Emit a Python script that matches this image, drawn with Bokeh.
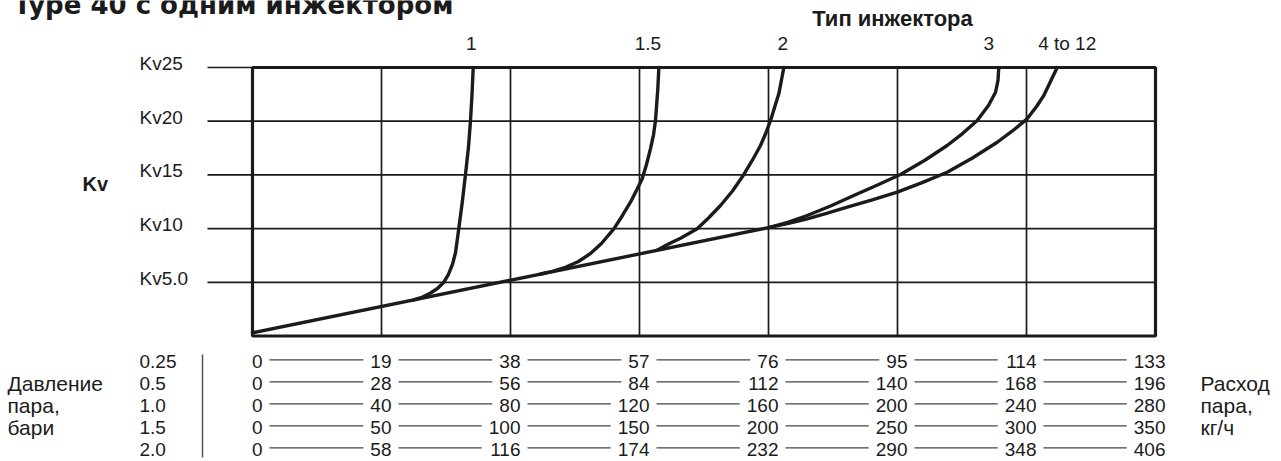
from bokeh.plotting import figure
from bokeh.models import Range1d
from bokeh.core.properties import value
from bokeh.embed import file_html
from bokeh.resources import INLINE

# ---------------- data ----------------
title_text = "Type 40 с одним инжектором"
type_axis_title = "Тип инжектора"
kv_axis_title = "Kv"
kv_ticks = [5, 10, 15, 20, 25]
kv_tick_labels = ["Kv5.0", "Kv10", "Kv15", "Kv20", "Kv25"]
columns = [0, 1, 2, 3, 4, 5, 6, 7]

pressure_labels = ["0.25", "0.5", "1.0", "1.5", "2.0"]
flow_p025 = [0, 19, 38, 57, 76, 95, 114, 133]
flow_p05 = [0, 28, 56, 84, 112, 140, 168, 196]
flow_p10 = [0, 40, 80, 120, 160, 200, 240, 280]
flow_p15 = [0, 50, 100, 150, 200, 250, 300, 350]
flow_p20 = [0, 58, 116, 174, 232, 290, 348, 406]
flow_rows = [flow_p025, flow_p05, flow_p10, flow_p15, flow_p20]

left_caption = ["Давление", "пара,", "бари"]
right_caption = ["Расход", "пара,", "кг/ч"]

injector_types = ["1", "1.5", "2", "3", "4 to 12"]

# common straight part (x in flow-column units, y in Kv)
diag_x = [0.0, 4.016]
diag_kv = [0.3, 10.13]

curve_1_x = [1.250, 1.318, 1.380, 1.434, 1.481, 1.519, 1.550, 1.574, 1.599,
             1.626, 1.651, 1.674, 1.690, 1.702, 1.711]
curve_1_kv = [3.36, 3.63, 4.00, 4.42, 4.98, 5.73, 6.66, 7.77, 9.98,
              12.46, 15.04, 17.55, 20.07, 22.58, 25.0]

curve_15_x = [2.233, 2.326, 2.426, 2.527, 2.620, 2.705, 2.801, 2.868, 2.930,
              2.984, 3.021, 3.054, 3.085, 3.109, 3.124, 3.142, 3.150]
curve_15_kv = [5.77, 6.02, 6.40, 6.94, 7.68, 8.61, 9.98, 11.22, 12.46,
               13.73, 14.64, 15.97, 17.43, 18.76, 20.07, 23.02, 25.0]

curve_2_x = [3.137, 3.225, 3.318, 3.447, 3.535, 3.628, 3.721, 3.809, 3.876,
             3.938, 3.981, 4.016, 4.054, 4.080, 4.119]
curve_2_kv = [7.98, 8.57, 9.11, 9.98, 10.99, 12.15, 13.50, 15.04, 16.39,
              17.74, 18.95, 20.07, 21.55, 22.55, 25.0]

curve_3_x = [4.016, 4.155, 4.300, 4.481, 4.661, 4.845, 5.023, 5.209, 5.385,
             5.504, 5.618, 5.705, 5.760, 5.779, 5.785]
curve_3_kv = [10.13, 10.61, 11.22, 12.10, 13.08, 14.06, 15.04, 16.34, 17.74,
              18.85, 20.07, 21.46, 22.70, 23.79, 25.0]

curve_4_x = [4.016, 4.155, 4.300, 4.450, 4.610, 4.798, 4.998, 5.186, 5.385,
             5.581, 5.773, 5.891, 6.005, 6.078, 6.134, 6.186, 6.238]
curve_4_kv = [10.13, 10.49, 10.91, 11.42, 11.99, 12.66, 13.39, 14.26, 15.25,
              16.57, 18.04, 19.09, 20.22, 21.37, 22.39, 23.70, 25.0]

curves_x = [curve_1_x, curve_15_x, curve_2_x, curve_3_x, curve_4_x]
curves_kv = [curve_1_kv, curve_15_kv, curve_2_kv, curve_3_kv, curve_4_kv]

# ---------------- layout helpers (pixel positions in the picture) ----------------
OFF = 0
X0_PX, PX_PER_COL = 252.0, 129.0
Y0_PX, PX_PER_KV = 335.5, 10.74
W, H = 1281, 461


def xpx(px):
    return (px - X0_PX) / PX_PER_COL


def ypx(py):
    return (Y0_PX - py) / PX_PER_KV


INK = "#1b1b1b"
SANS = value("'Liberation Sans', Arial, sans-serif")

p = figure(width=W, height=H,
           x_range=Range1d(xpx(OFF), xpx(OFF + W)),
           y_range=Range1d(ypx(OFF + H), ypx(OFF)),
           output_backend="svg", toolbar_location=None,
           x_axis_location=None, y_axis_location=None,
           min_border=0, outline_line_color=None)
p.grid.visible = False
p.background_fill_color = "white"
p.border_fill_color = "white"

# horizontal grid lines (extend left of the box as ticks)
p.segment(x0=[xpx(207)] * len(kv_ticks), x1=[columns[-1]] * len(kv_ticks),
          y0=kv_ticks, y1=kv_ticks, line_color=INK, line_width=1.7)
# vertical grid lines
inner = columns[1:-1]
p.segment(x0=inner, x1=inner, y0=[0] * len(inner), y1=[kv_ticks[-1]] * len(inner),
          line_color=INK, line_width=1.7)
# frame
p.quad(left=[columns[0]], right=[columns[-1]], bottom=[0], top=[kv_ticks[-1]],
       fill_color=None, line_color=INK, line_width=3.2)

# curves
p.line(diag_x, diag_kv, line_color=INK, line_width=3.4, line_cap="round")
for cx, ck in zip(curves_x, curves_kv):
    p.line(cx, ck, line_color=INK, line_width=3.4, line_join="round", line_cap="round")

# Kv tick labels
p.text(x=[xpx(139)] * len(kv_ticks), y=[k + 4 / PX_PER_KV for k in kv_ticks], text=kv_tick_labels,
       text_font=SANS, text_font_size=value("19px"), text_color=INK,
       text_align="left", text_baseline="middle")
p.text(x=[xpx(82)], y=[ypx(183)], text=[kv_axis_title], text_font=SANS,
       text_font_style="bold", text_font_size=value("20px"), text_color=INK,
       text_align="left", text_baseline="middle")

# injector type labels above the curves
label_shift_px = [-2, -11, -1, -10, 10]
top_x = [cx[-1] + s / PX_PER_COL for cx, s in zip(curves_x, label_shift_px)]
p.text(x=top_x, y=[ypx(43)] * len(top_x), text=injector_types,
       text_font=SANS, text_font_size=value("19px"), text_color=INK,
       text_align="center", text_baseline="middle")
p.text(x=[xpx(892)], y=[ypx(18)], text=[type_axis_title], text_font=SANS,
       text_font_style="bold", text_font_size=value("22px"), text_color=INK,
       text_align="center", text_baseline="middle")

# title (partly clipped at the top, as in the original)
p.text(x=[xpx(13)], y=[ypx(4)], text=[title_text], text_font=value("'DejaVu Sans', Verdana, sans-serif"),
       text_font_style="bold", text_font_size=value("26px"), text_color=INK,
       text_align="left", text_baseline="alphabetic")

# ---------------- conversion table ----------------
row_py = [361, 383, 405, 427, 449]
row_y = [ypx(v) for v in row_py]
NUM_OFF = 10 / PX_PER_COL
DIGIT_W = 10.6
for ry, vals in zip(row_y, flow_rows):
    p.text(x=[c + NUM_OFF for c in columns], y=[ry] * len(columns), text=[str(v) for v in vals],
           text_font=SANS, text_font_size=value("19px"), text_color=INK,
           text_align="right", text_baseline="middle")
    xs0, xs1 = [], []
    for i in range(len(columns) - 1):
        xs0.append(columns[i] + NUM_OFF + 7 / PX_PER_COL)
        w_next = len(str(vals[i + 1])) * DIGIT_W
        xs1.append(columns[i + 1] + NUM_OFF - (w_next + 7) / PX_PER_COL)
    p.segment(x0=xs0, x1=xs1, y0=[ry + 0.15] * len(xs0), y1=[ry + 0.15] * len(xs0),
              line_color="#444444", line_width=1.2)

p.text(x=[xpx(139)] * len(pressure_labels), y=row_y, text=pressure_labels,
       text_font=SANS, text_font_size=value("19px"), text_color=INK,
       text_align="left", text_baseline="middle")
p.segment(x0=[xpx(202)], x1=[xpx(202)], y0=[ypx(354)], y1=[ypx(457)],
          line_color="#555555", line_width=1.5)

p.text(x=[xpx(7)] * 3, y=row_y[1:4], text=left_caption,
       text_font=SANS, text_font_size=value("21px"), text_color=INK,
       text_align="left", text_baseline="middle")
p.text(x=[xpx(1200)] * 3, y=row_y[1:4], text=right_caption,
       text_font=SANS, text_font_size=value("21px"), text_color=INK,
       text_align="left", text_baseline="middle")

open("out.html", "w").write(file_html(p, INLINE))
